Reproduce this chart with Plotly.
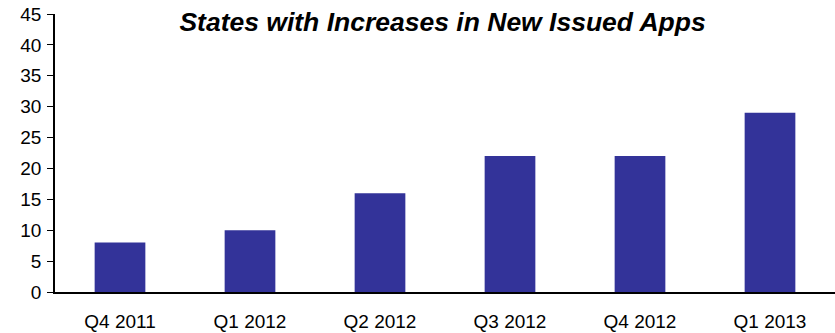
import plotly.graph_objects as go

categories = ["Q4 2011", "Q1 2012", "Q2 2012", "Q3 2012", "Q4 2012", "Q1 2013"]
values = [8, 10, 16, 22, 22, 29]
y_ticks = [0, 5, 10, 15, 20, 25, 30, 35, 40, 45]
title_text = "States with Increases in New Issued Apps"

fig = go.Figure(go.Bar(x=categories, y=values, marker=dict(color="#333399", line=dict(width=0))))

fig.update_layout(
    width=835, height=333,
    margin=dict(l=55, r=0, t=14, b=41),
    paper_bgcolor="white", plot_bgcolor="white",
    bargap=0.61,
    showlegend=False,
    font=dict(family="Liberation Sans, Arial, sans-serif", size=19, color="black"),
    title=dict(text="<b><i>" + title_text + "</i></b>", x=0.53, xanchor="center",
               y=0.935, yanchor="middle", font=dict(size=26.5, color="black")),
)
fig.update_xaxes(showline=True, linecolor="black", linewidth=1.5, ticks="",
                 showgrid=False, ticklabelstandoff=11)
fig.update_yaxes(range=[0, 45], tickvals=y_ticks, showline=True, linecolor="black",
                 linewidth=1.5, ticks="outside", ticklen=6, tickcolor="black",
                 showgrid=False, zeroline=False, ticklabelstandoff=2)

fig.write_html("out.html")
